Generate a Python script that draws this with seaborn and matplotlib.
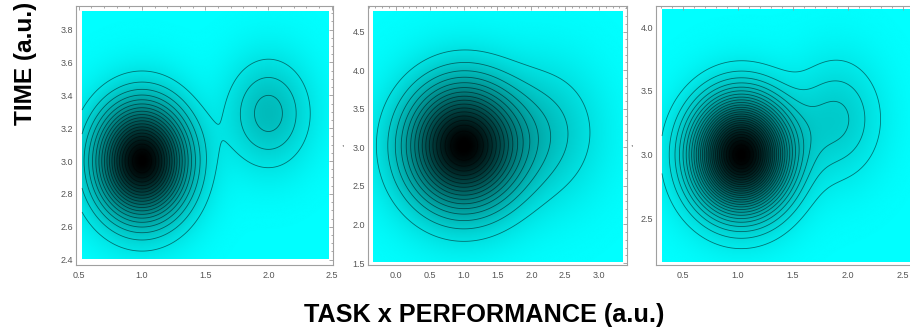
import numpy as np
import matplotlib
matplotlib.use("Agg")
import matplotlib.pyplot as plt
import seaborn as sns
from matplotlib.ticker import MultipleLocator, FormatStrFormatter
from matplotlib.colors import PowerNorm

sns.set_style("white")
plt.rcParams['font.family'] = ['Liberation Sans', 'DejaVu Sans']

# gaussian components: centre x/y, spread x/y, height
p1_cx = [1.0, 2.0]
p1_cy = [3.0, 3.29]
p1_sx = [0.235, 0.21]
p1_sy = [0.224, 0.21]
p1_h = [1.0, 0.172]
p1_nlev = 20

p2_cx = [1.0, 2.25]
p2_cy = [3.02, 3.2]
p2_sx = [0.54, 0.5]
p2_sy = [0.52, 0.55]
p2_h = [1.0, 0.12]
p2_nlev = 17

p3_cx = [1.03, 1.9]
p3_cy = [3.0, 3.28]
p3_sx = [0.285, 0.26]
p3_sy = [0.285, 0.3]
p3_h = [1.0, 0.115]
p3_nlev = 28

# (frame px left, right, top, bottom), xlim, ylim, image extent, tick steps
panels = [
    dict(cx=p1_cx, cy=p1_cy, sx=p1_sx, sy=p1_sy, h=p1_h, nlev=p1_nlev,
         box=(75.7, 332.5, 5.5, 265), xlim=(0.476, 2.506), ylim=(2.367, 3.947),
         ext=(0.526, 2.473, 2.401, 3.909), xt=(0.5, 0.1), yt=(0.2, 0.05)),
    dict(cx=p2_cx, cy=p2_cy, sx=p2_sx, sy=p2_sy, h=p2_h, nlev=p2_nlev,
         box=(368, 627, 5.5, 265), xlim=(-0.409, 3.411), ylim=(1.475, 4.837),
         ext=(-0.33, 3.353, 1.518, 4.769), xt=(0.5, 0.1), yt=(0.5, 0.1)),
    dict(cx=p3_cx, cy=p3_cy, sx=p3_sx, sy=p3_sy, h=p3_h, nlev=p3_nlev,
         box=(655.7, 916, 5.5, 265), xlim=(0.252, 2.62), ylim=(2.136, 4.169),
         ext=(0.309, 2.6, 2.161, 4.139), xt=(0.5, 0.1), yt=(0.5, 0.1)),
]

W, H = 910, 335
fig = plt.figure(figsize=(W / 100, H / 100), dpi=100)
cmap = sns.blend_palette(["#00ffff", "#000000"], as_cmap=True)

for p in panels:
    l, r, t, b = p['box']
    ax = fig.add_axes([l / W, 1 - b / H, (r - l) / W, (b - t) / H])
    x0, x1, y0, y1 = p['ext']
    xs = np.linspace(x0, x1, 400)
    ys = np.linspace(y0, y1, 400)
    X, Y = np.meshgrid(xs, ys)
    Z = np.zeros_like(X)
    for cx, cy, sx, sy, h in zip(p['cx'], p['cy'], p['sx'], p['sy'], p['h']):
        Z += h * np.exp(-((X - cx) ** 2 / (2 * sx ** 2) + (Y - cy) ** 2 / (2 * sy ** 2)))
    ax.imshow(Z, extent=p['ext'], origin='lower', cmap=cmap,
              norm=PowerNorm(gamma=0.75, vmin=0, vmax=1),
              aspect='auto', interpolation='bilinear')
    levels = np.arange(1, p['nlev']) / p['nlev']
    ax.contour(X, Y, Z, levels=levels, colors='black', linewidths=0.6, alpha=0.5)
    ax.set_xlim(p['xlim'])
    ax.set_ylim(p['ylim'])
    ax.xaxis.set_major_locator(MultipleLocator(p['xt'][0]))
    ax.xaxis.set_minor_locator(MultipleLocator(p['xt'][1]))
    ax.yaxis.set_major_locator(MultipleLocator(p['yt'][0]))
    ax.yaxis.set_minor_locator(MultipleLocator(p['yt'][1]))
    ax.xaxis.set_major_formatter(FormatStrFormatter('%.1f'))
    ax.yaxis.set_major_formatter(FormatStrFormatter('%.1f'))
    ax.tick_params(which='both', direction='in', top=True, right=True,
                   color='#9a9a9a', width=0.6, labelsize=6.5, labelcolor='#555555')
    ax.tick_params(which='major', length=3.2)
    ax.tick_params(which='minor', length=1.6)
    ax.tick_params(axis='x', pad=4)
    ax.tick_params(axis='y', pad=2)
    for s in ax.spines.values():
        s.set_color('#a0a0a0')
        s.set_linewidth(0.8)
    ax.set_facecolor('white')

fig.text(31.7 / W, 1 - 63.5 / H, 'TIME (a.u.)', rotation=90, rotation_mode='anchor',
         ha='center', va='baseline', fontsize=17.6, fontweight='bold', color='black')
fig.text(484.5 / W, 1 - 321.7 / H, 'TASK x PERFORMANCE (a.u.)',
         ha='center', va='baseline', fontsize=18.2, fontweight='bold', color='black')
fig.text(342 / W, 1 - 145 / H, ',', ha='center', va='center', fontsize=6, color='#333333')
fig.text(631 / W, 1 - 145 / H, ',', ha='center', va='center', fontsize=6, color='#333333')

fig.savefig('out.png', dpi=100)
